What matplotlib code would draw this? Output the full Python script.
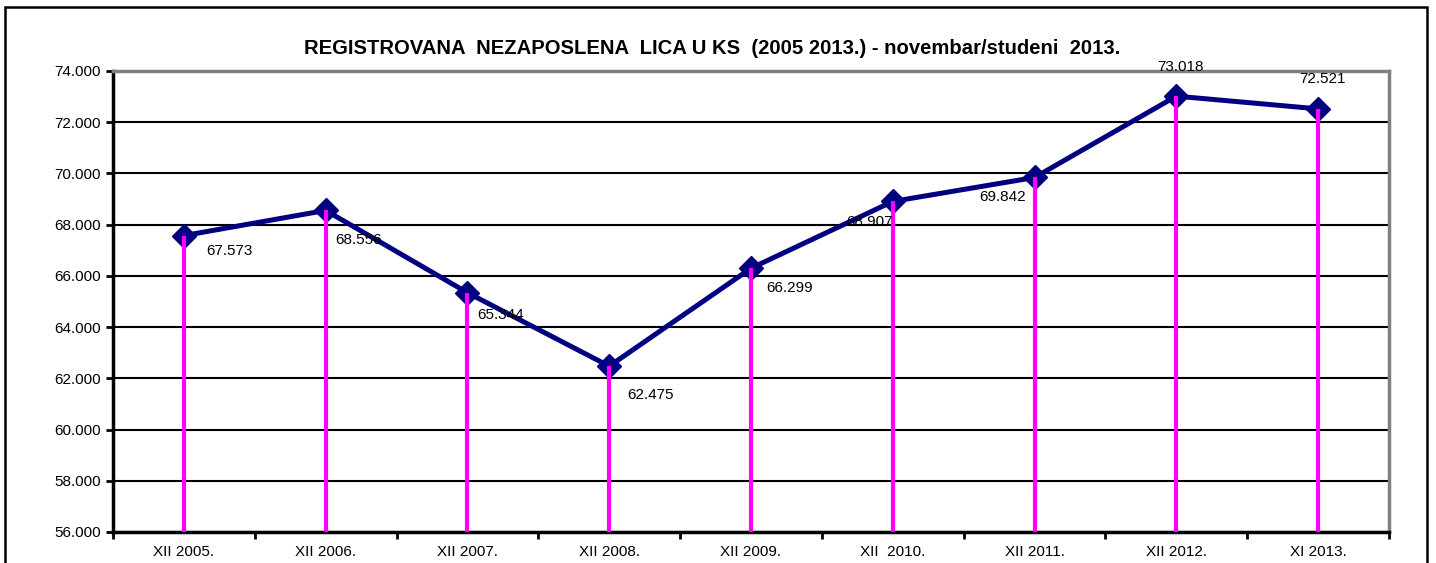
import matplotlib.pyplot as plt
from matplotlib.patches import Rectangle

plt.rcParams['font.family'] = ['Liberation Sans', 'DejaVu Sans']

categories = ['XII 2005.', 'XII 2006.', 'XII 2007.', 'XII 2008.', 'XII 2009.',
              'XII  2010.', 'XII 2011.', 'XII 2012.', 'XI 2013.']
values = [67573, 68556, 65344, 62475, 66299, 68907, 69842, 73018, 72521]
value_labels = ['67.573', '68.556', '65.344', '62.475', '66.299',
                '68.907', '69.842', '73.018', '72.521']
yticks = [56000, 58000, 60000, 62000, 64000, 66000, 68000, 70000, 72000, 74000]

# offsets of the data labels (points)
label_offsets = [(33, -11), (24, -21), (24, -16), (30, -21), (28, -14),
                 (-17, -15), (-23, -14), (3, 21), (3, 21.5)]

fig = plt.figure(figsize=(14.36, 5.63), dpi=100)
ax = fig.add_axes([113 / 1436, 31 / 563, 1276 / 1436, 461 / 563])

x = list(range(len(values)))
ax.plot(x, values, color='#000080', lw=3.6, marker='D', ms=12, zorder=3)
ax.vlines(x, 56000, values, color='#ff00ff', lw=3, zorder=4)

for i, (v, t) in enumerate(zip(values, value_labels)):
    ax.annotate(t, (i, v), xytext=label_offsets[i], textcoords='offset points',
                ha='center', va='center', fontsize=11, zorder=5)

ax.set_ylim(56000, 74000)
ax.set_xlim(-0.5, len(values) - 0.5)
ax.set_yticks(yticks)
ax.set_yticklabels([f'{v // 1000}.000' for v in yticks], fontsize=11)
ax.yaxis.grid(True, color='black', lw=1.5)
ax.set_axisbelow(True)

ax.set_xticks([i - 0.5 for i in range(len(values) + 1)])
ax.set_xticklabels([])
ax.set_xticks(x, minor=True)
ax.set_xticklabels(categories, minor=True, fontsize=11)
ax.tick_params(axis='x', which='minor', length=0, pad=9)
ax.tick_params(axis='x', which='major', length=5, width=2, direction='out')
ax.tick_params(axis='y', length=5, width=2, direction='out', pad=4)

for s in ['left', 'bottom']:
    ax.spines[s].set_linewidth(2.5)
    ax.spines[s].set_color('black')
for s in ['top', 'right']:
    ax.spines[s].set_linewidth(2.5)
    ax.spines[s].set_color('#808080')

fig.text(712 / 1436, 1 - 48 / 563,
         'REGISTROVANA  NEZAPOSLENA  LICA U KS  (2005 2013.) - novembar/studeni  2013.',
         ha='center', va='center', fontsize=14.6, fontweight='bold')

fig.patches.append(Rectangle((5 / 1436, -0.05), 1422 / 1436, 1 - 7 / 563 + 0.05,
                             transform=fig.transFigure, fill=False,
                             edgecolor='black', lw=1.8))

fig.savefig('out.png', dpi=100)
